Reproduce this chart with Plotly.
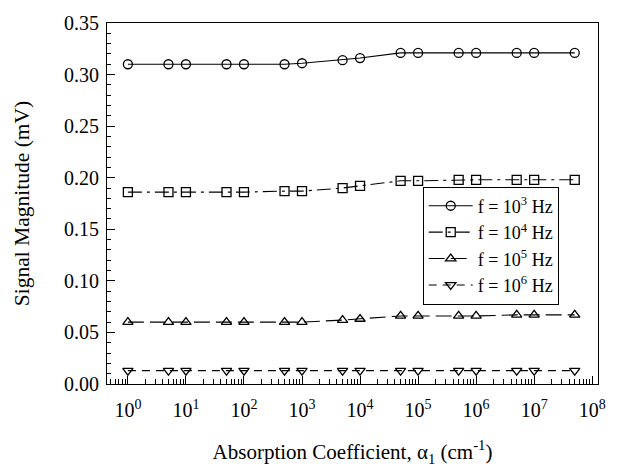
import plotly.graph_objects as go

alpha = [1, 5, 10, 50, 100, 500, 1e3, 5e3, 1e4, 5e4, 1e5, 5e5, 1e6, 5e6, 1e7, 5e7]
f1e3 = [0.310, 0.310, 0.310, 0.310, 0.310, 0.310, 0.311, 0.314, 0.316, 0.321, 0.321, 0.321, 0.321, 0.321, 0.321, 0.321]
f1e4 = [0.186, 0.186, 0.186, 0.186, 0.186, 0.187, 0.187, 0.190, 0.192, 0.197, 0.197, 0.198, 0.198, 0.198, 0.198, 0.198]
f1e5 = [0.060, 0.060, 0.060, 0.060, 0.060, 0.060, 0.060, 0.062, 0.063, 0.066, 0.066, 0.066, 0.066, 0.067, 0.067, 0.067]
f1e6 = [0.013, 0.013, 0.013, 0.013, 0.013, 0.013, 0.013, 0.013, 0.013, 0.013, 0.013, 0.013, 0.013, 0.013, 0.013, 0.013]

series = [
    ("f = 10<sup>3</sup> Hz", f1e3, "circle-open", "solid"),
    ("f = 10<sup>4</sup> Hz", f1e4, "square-open", "14px,5px,3px,5px"),
    ("f = 10<sup>5</sup> Hz", f1e5, "triangle-up-open", "16px,6px"),
    ("f = 10<sup>6</sup> Hz", f1e6, "triangle-down-open", "8px,6px"),
]

xtickvals = [10 ** i for i in range(9)]
xticktext = ["10<sup>%d</sup>" % i for i in range(9)]
ytickvals = [0.0, 0.05, 0.10, 0.15, 0.20, 0.25, 0.30, 0.35]

fig = go.Figure()
for name, ys, sym, dash in series:
    fig.add_trace(go.Scatter(
        x=alpha, y=ys, name=name, mode="lines+markers",
        line=dict(color="black", width=1.1, dash=dash),
        marker=dict(symbol=sym, size=9, color="black", line=dict(width=1.3, color="black")),
    ))

font_family = "Liberation Serif, Times New Roman, serif"
fig.update_layout(
    width=619, height=476,
    margin=dict(l=107, r=21, t=16, b=92),
    paper_bgcolor="white", plot_bgcolor="white",
    font=dict(family=font_family, size=20, color="black"),
    showlegend=True,
    legend=dict(
        x=0.643, y=0.547, xanchor="left", yanchor="top",
        bgcolor="white", bordercolor="black", borderwidth=1,
        font=dict(size=18, family=font_family),
        tracegroupgap=0, itemwidth=44,
    ),
    xaxis=dict(
        type="log", range=[-0.36, 8.1],
        tickvals=xtickvals, ticktext=xticktext,
        ticks="inside", ticklen=8, tickcolor="black",
        showline=True, linecolor="black", linewidth=1.2, mirror=True,
        showgrid=False, zeroline=False,
        minor=dict(ticks="inside", ticklen=5, dtick="D1", tickcolor="black", showgrid=False),
        title=dict(text="Absorption Coefficient, α<sub>1</sub> (cm<sup>-1</sup>)", font=dict(size=21), standoff=24),
        tickfont=dict(size=20), ticklabelstandoff=8,
    ),
    yaxis=dict(
        range=[0, 0.35],
        tickvals=ytickvals, tickformat=".2f",
        ticks="inside", ticklen=8, tickcolor="black",
        showline=True, linecolor="black", linewidth=1.2, mirror=True,
        showgrid=False, zeroline=False,
        minor=dict(ticks="inside", ticklen=4, dtick=0.01, tickcolor="black", showgrid=False),
        title=dict(text="Signal Magnitude (mV)", font=dict(size=21.5), standoff=28),
        tickfont=dict(size=20), ticklabelstandoff=3,
    ),
)

fig.write_html("out.html")
